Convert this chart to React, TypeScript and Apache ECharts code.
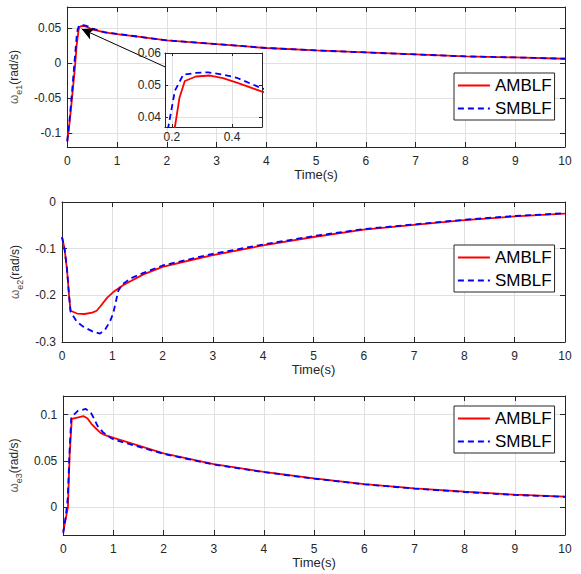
import React, { useEffect, useRef } from 'react';
import * as echarts from 'echarts';

const seriesNames = ['AMBLF', 'SMBLF'];
const xAxisTitle = 'Time(s)';
const yAxisSubs = ['e1', 'e2', 'e3'];

const e1Amblf: [number, number][] = [
  [0, -0.112], [0.05, -0.083], [0.1, -0.047], [0.15, -0.01], [0.19, 0.026], [0.21, 0.037],
  [0.225, 0.046], [0.243, 0.0513], [0.28, 0.0527], [0.327, 0.053], [0.37, 0.0522], [0.416, 0.0508],
  [0.5, 0.048], [0.75, 0.0437], [1, 0.0414], [1.5, 0.037], [2, 0.0323], [3, 0.0271], [4, 0.0214],
  [5, 0.018], [6, 0.0151], [7, 0.0123], [8, 0.0094], [9, 0.008], [10, 0.0061],
];
const e1Smblf: [number, number][] = [
  [0, -0.112], [0.05, -0.078], [0.1, -0.038], [0.15, 0.005], [0.188, 0.037], [0.21, 0.0483],
  [0.238, 0.0533], [0.28, 0.0538], [0.321, 0.054], [0.37, 0.0533], [0.416, 0.0523], [0.5, 0.049],
  [0.75, 0.0441], [1, 0.0415], [1.5, 0.037], [2, 0.0323], [3, 0.0271], [4, 0.0214],
  [5, 0.018], [6, 0.0151], [7, 0.0123], [8, 0.0094], [9, 0.008], [10, 0.0061],
];
const e2Amblf: [number, number][] = [
  [0, -0.075], [0.05, -0.1], [0.1, -0.145], [0.14, -0.2], [0.17, -0.233], [0.3, -0.239],
  [0.45, -0.24], [0.6, -0.237], [0.69, -0.233], [0.76, -0.224], [0.9, -0.205], [1.02, -0.193],
  [1.22, -0.178], [1.62, -0.155], [2, -0.139], [2.74, -0.12], [3, -0.114], [4, -0.093],
  [5, -0.075], [6, -0.059], [7, -0.049], [8, -0.039], [9, -0.031], [10, -0.025],
];
const e2Smblf: [number, number][] = [
  [0, -0.075], [0.05, -0.1], [0.1, -0.145], [0.14, -0.2], [0.17, -0.235], [0.29, -0.256],
  [0.42, -0.267], [0.62, -0.278], [0.755, -0.282], [0.855, -0.274], [0.954, -0.256], [1.02, -0.238],
  [1.12, -0.19], [1.2, -0.176], [1.4, -0.162], [1.62, -0.152], [2, -0.136], [3, -0.111],
  [4, -0.091], [5, -0.073], [6, -0.058], [7, -0.048], [8, -0.038], [9, -0.03], [10, -0.024],
];
const e3Amblf: [number, number][] = [
  [0, -0.026], [0.05, -0.012], [0.093, 0.0], [0.126, 0.055], [0.17, 0.0953], [0.3, 0.097],
  [0.4, 0.0983], [0.48, 0.096], [0.56, 0.09], [0.64, 0.0855], [0.75, 0.08], [0.85, 0.0775],
  [1.02, 0.0745], [2, 0.058], [3, 0.0464], [4, 0.0382], [5, 0.0311], [6, 0.025], [7, 0.0204],
  [8, 0.0167], [9, 0.0135], [10, 0.0114],
];
const e3Smblf: [number, number][] = [
  [0, -0.028], [0.05, -0.01], [0.09, 0.01], [0.125, 0.06], [0.16, 0.097], [0.29, 0.104],
  [0.45, 0.106], [0.55, 0.102], [0.62, 0.095], [0.68, 0.088], [0.79, 0.081], [0.95, 0.0747],
  [1.02, 0.0728], [2, 0.0575], [3, 0.046], [4, 0.0378], [5, 0.0308], [6, 0.0247], [7, 0.0201],
  [8, 0.0164], [9, 0.0132], [10, 0.0112],
];

const yRanges: [number, number, number][] = [
  [-0.12, 0.08, 4],
  [-0.3, 0, 3],
  [-0.03, 0.12, 3],
];
const insetX: [number, number] = [0.177, 0.5];
const insetY: [number, number] = [0.037, 0.06];
const arrowFrom: [number, number] = [2.01, -0.007];
const arrowTo: [number, number] = [0.29, 0.0486];

const AX = '#262626';
const GRIDLINE = '#e0e0e0';
const FONT = '"Liberation Sans", Arial, Helvetica, sans-serif';
const RED = '#ff0000';
const BLUE = '#0000ff';

const axisBase = (gridIndex: number, position: string, min: number, max: number, extra: any = {}) => ({
  type: 'value',
  gridIndex,
  position,
  min,
  max,
  axisLine: { show: true, onZero: false, lineStyle: { color: AX, width: 1 } },
  axisTick: { show: true, inside: true, length: 5, lineStyle: { color: AX } },
  axisLabel: { show: false },
  splitLine: { show: false },
  ...extra,
});

const labelStyle = { color: AX, fontSize: 12, fontFamily: FONT };

function buildOption() {
  const grids: any[] = [
    { left: 62, top: 7, width: 503, height: 140 },
    { left: 62, top: 202, width: 503, height: 140 },
    { left: 62, top: 396, width: 503, height: 139 },
    { left: 165, top: 53, width: 97, height: 74, show: true, backgroundColor: '#fff', borderWidth: 0, z: 10 },
  ];
  const xAxes: any[] = [];
  const yAxes: any[] = [];
  for (let g = 0; g < 3; g++) {
    xAxes.push(axisBase(g, 'bottom', 0, 10, {
      interval: 1,
      axisLabel: { show: true, margin: 8, ...labelStyle },
      splitLine: { show: true, lineStyle: { color: GRIDLINE, width: 1 } },
      name: xAxisTitle,
      nameLocation: 'middle',
      nameGap: 19,
      nameTextStyle: { color: AX, fontSize: 13, fontFamily: FONT },
    }));
    xAxes.push(axisBase(g, 'top', 0, 10, { interval: 1 }));
    const [mn, mx, sn] = yRanges[g];
    yAxes.push(axisBase(g, 'left', mn, mx, {
      splitNumber: sn,
      axisLabel: { show: true, margin: 6, showMinLabel: g === 1, showMaxLabel: g === 1, ...labelStyle },
      splitLine: { show: true, lineStyle: { color: GRIDLINE, width: 1 } },
      name: `{g|ω}{s|${yAxisSubs[g]}}{n|(rad/s)}`,
      nameLocation: 'middle',
      nameRotate: 90,
      nameGap: 37,
      nameTextStyle: {
        rich: {
          g: { fontSize: 12, color: '#666', fontFamily: FONT, lineHeight: 18, verticalAlign: 'middle' },
          s: { fontSize: 9, color: '#444', fontFamily: FONT, lineHeight: 18, verticalAlign: 'bottom' },
          n: { fontSize: 12, color: AX, fontFamily: FONT, lineHeight: 18, verticalAlign: 'middle' },
        },
      },
    }));
    yAxes.push(axisBase(g, 'right', mn, mx, { splitNumber: sn }));
  }
  // inset axes
  xAxes.push(axisBase(3, 'bottom', insetX[0], insetX[1], {
    splitNumber: 2, z: 11,
    axisTick: { show: true, inside: true, length: 3, lineStyle: { color: AX } },
    axisLabel: { show: true, margin: 4, showMinLabel: false, showMaxLabel: false, ...labelStyle },
    splitLine: { show: true, lineStyle: { color: GRIDLINE, width: 1 } },
  }));
  xAxes.push(axisBase(3, 'top', insetX[0], insetX[1], {
    splitNumber: 2, z: 11,
    axisTick: { show: true, inside: true, length: 3, lineStyle: { color: AX } },
  }));
  yAxes.push(axisBase(3, 'left', insetY[0], insetY[1], {
    splitNumber: 2, z: 11,
    axisTick: { show: true, inside: true, length: 3, lineStyle: { color: AX } },
    axisLabel: { show: true, margin: 4, showMinLabel: false, showMaxLabel: true, ...labelStyle },
    splitLine: { show: true, lineStyle: { color: GRIDLINE, width: 1 } },
  }));
  yAxes.push(axisBase(3, 'right', insetY[0], insetY[1], {
    splitNumber: 2, z: 11,
    axisTick: { show: true, inside: true, length: 3, lineStyle: { color: AX } },
  }));

  const pairs: [[number, number][], [number, number][]][] = [
    [e1Amblf, e1Smblf],
    [e2Amblf, e2Smblf],
    [e3Amblf, e3Smblf],
    [e1Amblf, e1Smblf],
  ];
  const series: any[] = [];
  pairs.forEach(([a, s], g) => {
    const idx = g * 2;
    const z = g === 3 ? 12 : 2;
    const red: any = {
      type: 'line', name: seriesNames[0], xAxisIndex: idx, yAxisIndex: idx,
      data: a, showSymbol: false, symbol: 'none', clip: true, z,
      lineStyle: { color: RED, width: 1.8 }, itemStyle: { color: RED },
    };
    if (g === 0) {
      red.markLine = {
        silent: true,
        symbol: ['none', 'arrow'],
        symbolSize: [9, 12],
        label: { show: false },
        lineStyle: { color: '#000', width: 1, type: 'solid' },
        itemStyle: { color: '#000' },
        emphasis: { disabled: true },
        data: [[{ coord: arrowFrom }, { coord: arrowTo }]],
      };
    }
    series.push(red);
    series.push({
      type: 'line', name: seriesNames[1], xAxisIndex: idx, yAxisIndex: idx,
      data: s, showSymbol: false, symbol: 'none', clip: true, z,
      lineStyle: { color: BLUE, width: 1.8, type: [6, 4] }, itemStyle: { color: BLUE },
    });
  });

  const legends = [73, 245, 406].map((top) => ({
    top, left: 454, orient: 'vertical', data: seriesNames,
    borderColor: AX, borderWidth: 1, backgroundColor: '#fff', borderRadius: 0,
    padding: [4, 3, 3, 3], itemGap: 6, itemWidth: 32, itemHeight: 14,
    selectedMode: false, z: 10,
    itemStyle: { opacity: 0, borderWidth: 0 },
    lineStyle: { width: 1.8 },
    textStyle: { fontSize: 17, color: '#000', fontFamily: FONT },
  }));

  return {
    animation: false,
    backgroundColor: '#fff',
    grid: grids,
    xAxis: xAxes,
    yAxis: yAxes,
    legend: legends,
    series,
  };
}

export default function App() {
  const ref = useRef<HTMLDivElement>(null);
  useEffect(() => {
    const chart = echarts.init(ref.current!, null, { renderer: 'svg' });
    chart.setOption(buildOption() as any);
    return () => chart.dispose();
  }, []);
  return (
    <div
      ref={ref}
      style={{ position: 'absolute', left: 0, top: 0, width: 581, height: 574, background: '#fff' }}
    />
  );
}
